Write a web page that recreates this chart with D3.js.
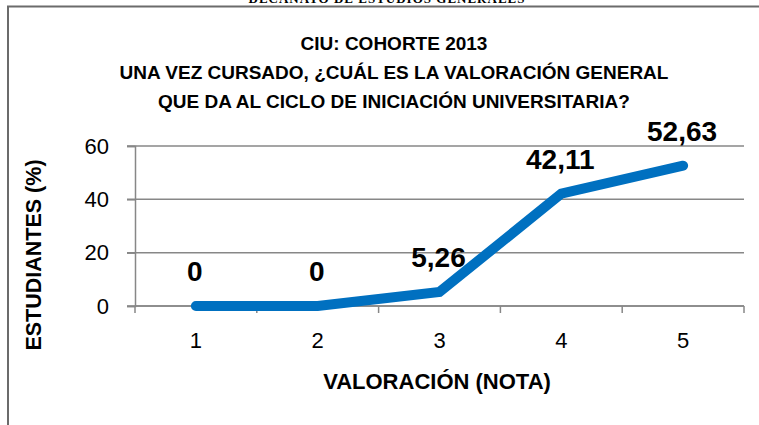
<!DOCTYPE html>
<html>
<head>
<meta charset="utf-8">
<script src="https://cdn.jsdelivr.net/npm/d3@7"></script>
<style>
  body { margin: 0; background: #fff; }
  svg { display: block; }
  text { font-family: "Liberation Sans", Arial, sans-serif; fill: #000; }
</style>
</head>
<body>
<svg id="chart" width="759" height="425"></svg>
<script>
// ---- data ----
const notas = ["1", "2", "3", "4", "5"];
const porcentajes = [0, 0, 5.26, 42.11, 52.63];
const etiquetas = ["0", "0", "5,26", "42,11", "52,63"];
const yTicks = [0, 20, 40, 60];
const titulo = [
    "CIU: COHORTE 2013",
    "UNA VEZ CURSADO, ¿CUÁL ES LA VALORACIÓN GENERAL",
    "QUE DA AL CICLO DE INICIACIÓN UNIVERSITARIA?"
];

const svg = d3.select("#chart");

// page header cut at the top of the picture
svg.append("text")
    .attr("x", 387)
    .attr("y", 3)
    .attr("text-anchor", "middle")
    .style("font-family", "'Liberation Serif', serif")
    .style("font-weight", "bold")
    .style("font-size", "13px")
    .style("letter-spacing", "1px")
    .text("DECANATO DE ESTUDIOS GENERALES");

// frame (top and left edges visible)
svg.append("path")
    .attr("d", "M8,425 V6.5 H759")
    .attr("fill", "none")
    .attr("stroke", "#6b6b6b")
    .attr("stroke-width", 2);

// title
svg.selectAll(".title")
    .data(titulo)
    .enter()
    .append("text")
    .attr("class", "title")
    .attr("x", 394)
    .attr("y", (d, i) => 50 + i * 29)
    .attr("text-anchor", "middle")
    .style("font-weight", "bold")
    .style("font-size", "19px")
    .text(d => d);

// scales
const x = d3.scaleBand()
    .domain(notas)
    .range([135, 744]);

const y = d3.scaleLinear()
    .domain([0, 60])
    .range([306, 146]);

// gridlines
svg.append("g")
    .selectAll("line")
    .data(yTicks)
    .enter()
    .append("line")
    .attr("x1", 127)
    .attr("x2", 744)
    .attr("y1", d => y(d))
    .attr("y2", d => y(d))
    .attr("stroke", "#878787")
    .attr("stroke-width", 1.5);

// y axis
const yAxis = svg.append("g")
    .attr("transform", "translate(135,0)")
    .call(d3.axisLeft(y).tickValues(yTicks).tickSize(8).tickPadding(18));
yAxis.select(".domain").attr("stroke", "#878787").attr("stroke-width", 1.5);
yAxis.selectAll(".tick line").attr("stroke", "#878787").attr("stroke-width", 1.5);
yAxis.selectAll("text")
    .style("font-family", "'Liberation Sans', Arial, sans-serif")
    .style("font-size", "22px")
    .attr("fill", "#000");

// x axis with ticks between categories
const xAxis = svg.append("g")
    .attr("transform", "translate(0,306)");
xAxis.append("line")
    .attr("x1", 135).attr("x2", 744)
    .attr("stroke", "#878787").attr("stroke-width", 1.5);
xAxis.selectAll(".sep")
    .data(notas.concat(["fin"]))
    .enter()
    .append("line")
    .attr("class", "sep")
    .attr("x1", (d, i) => i < notas.length ? x(d) : x(notas[notas.length - 1]) + x.bandwidth())
    .attr("x2", (d, i) => i < notas.length ? x(d) : x(notas[notas.length - 1]) + x.bandwidth())
    .attr("y1", 0)
    .attr("y2", 7)
    .attr("stroke", "#878787").attr("stroke-width", 1.5);
xAxis.selectAll(".lbl")
    .data(notas)
    .enter()
    .append("text")
    .attr("class", "lbl")
    .attr("x", d => x(d) + x.bandwidth() / 2)
    .attr("y", 42)
    .attr("text-anchor", "middle")
    .style("font-size", "22px")
    .text(d => d);

// axis titles
svg.append("text")
    .attr("x", 437)
    .attr("y", 389)
    .attr("text-anchor", "middle")
    .style("font-weight", "bold")
    .style("font-size", "22px")
    .text("VALORACIÓN (NOTA)");

svg.append("text")
    .attr("transform", "translate(41,255) rotate(-90)")
    .attr("text-anchor", "middle")
    .style("font-weight", "bold")
    .style("font-size", "21.5px")
    .text("ESTUDIANTES (%)");

// line
const datos = notas.map((n, i) => ({ nota: n, valor: porcentajes[i], etiqueta: etiquetas[i] }));

const line = d3.line()
    .x(d => x(d.nota) + x.bandwidth() / 2)
    .y(d => y(d.valor));

svg.append("path")
    .datum(datos)
    .attr("d", line)
    .attr("fill", "none")
    .attr("stroke", "#0070c0")
    .attr("stroke-width", 10)
    .attr("stroke-linecap", "round")
    .attr("stroke-linejoin", "miter");

// data labels
svg.selectAll(".dato")
    .data(datos)
    .enter()
    .append("text")
    .attr("class", "dato")
    .attr("x", d => x(d.nota) + x.bandwidth() / 2 - 1)
    .attr("y", d => y(d.valor) - 25)
    .attr("text-anchor", "middle")
    .style("font-weight", "bold")
    .style("font-size", "28px")
    .text(d => d.etiqueta);
</script>
</body>
</html>
